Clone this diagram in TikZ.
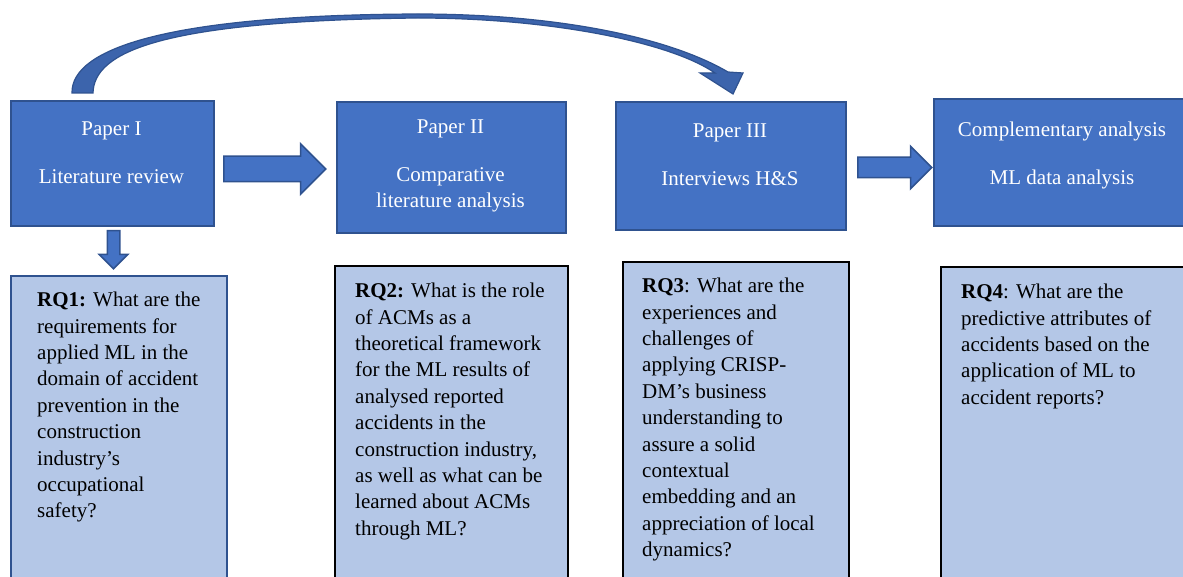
\documentclass[tikz,border=0pt]{standalone}
\usepackage{fontspec}
\setmainfont{Liberation Serif}
\usetikzlibrary{shapes.arrows}
\definecolor{paperblue}{HTML}{4472C4}
\definecolor{edgeblue}{HTML}{2F528F}
\definecolor{rqblue}{HTML}{B4C7E7}

\begin{document}
\begin{tikzpicture}[x=1pt,y=-1pt,
  paper/.style={rectangle,draw=edgeblue,line width=2pt,fill=paperblue,anchor=north west},
  rq/.style={rectangle,draw=black,line width=2pt,fill=rqblue,anchor=north west},
  papertext/.style={text=white,align=center,anchor=north,inner sep=0pt,font=\fontsize{21}{26.4}\selectfont},
  rqtext/.style={align=left,anchor=north west,inner sep=0pt,font=\fontsize{21}{26.4}\selectfont},
  fatarrow/.style={single arrow,draw=edgeblue,line width=1.5pt,fill=paperblue,anchor=tail}]
\useasboundingbox (0,0) rectangle (1183,577);

\node[paper,minimum width=203pt,minimum height=125pt] (p1) at (10,100) {};
\node[paper,minimum width=229pt,minimum height=131pt] (p2) at (336,101) {};
\node[paper,minimum width=230pt,minimum height=128pt] (p3) at (615,101) {};
\node[paper,minimum width=262pt,minimum height=127pt] (p4) at (933,98) {};

\node[papertext] (p1t) at (111.5,122) {Paper I\\[21pt]Literature review};
\node[papertext] (p2t) at (450.5,120) {Paper II\\[21pt]Comparative\\literature analysis};
\node[papertext] (p3t) at (730,124) {Paper III\\[21pt]Interviews H\&S};
\node[papertext] (p4t) at (1062,122) {Complementary analysis\\[21pt]ML data analysis};

\node[fatarrow,minimum height=102pt,inner xsep=0pt,inner ysep=12pt,single arrow head extend=12.5pt] (a12) at (223,169) {};
\node[fatarrow,minimum height=74pt,inner xsep=0pt,inner ysep=9.5pt,single arrow head extend=11pt] (a34) at (857,167.5) {};
\node[fatarrow,minimum height=38pt,inner xsep=5.5pt,inner ysep=0pt,single arrow head extend=8pt,shape border rotate=270] (a1q) at (113.5,230) {};

\node[rq,draw=edgeblue,minimum width=216pt,minimum height=330pt] (q1) at (10,275) {};
\node[rq,minimum width=233pt,minimum height=330pt] (q2) at (334,265) {};
\node[rq,minimum width=226pt,minimum height=330pt] (q3) at (622,261) {};
\node[rq,minimum width=252pt,minimum height=330pt] (q4) at (940,266) {};

\node[rqtext] (q1t) at (37,292) {\textbf{RQ1:} What are the\\requirements for\\applied ML in the\\domain of accident\\prevention in the\\construction\\industry's\\occupational\\safety?};
\node[rqtext] (q2t) at (355,283) {\textbf{RQ2:} What is the role\\of ACMs as a\\theoretical framework\\for the ML results of\\analysed reported\\accidents in the\\construction industry,\\as well as what can be\\learned about ACMs\\through ML?};
\node[rqtext] (q3t) at (642,278) {\textbf{RQ3}: What are the\\experiences and\\challenges of\\applying CRISP-\\DM's business\\understanding to\\assure a solid\\contextual\\embedding and an\\appreciation of local\\dynamics?};
\node[rqtext] (q4t) at (961,284) {\textbf{RQ4}: What are the\\predictive attributes of\\accidents based on the\\application of ML to\\accident reports?};

\coordinate (cbase) at (82,93);
\coordinate (ctip) at (733,94);
\draw[edgeblue,line width=1.2pt,fill=paperblue!88!black]
  (72,93) .. controls (71,48) and (170,15) .. (417,14)
  .. controls (560,14) and (670,38) .. (728,72)
  -- (743,73) -- (ctip) -- (700,73) -- (715,73)
  .. controls (670,42) and (550,18) .. (417,18)
  .. controls (160,21) and (94,52) .. (93,93) -- cycle;
\end{tikzpicture}
\end{document}
